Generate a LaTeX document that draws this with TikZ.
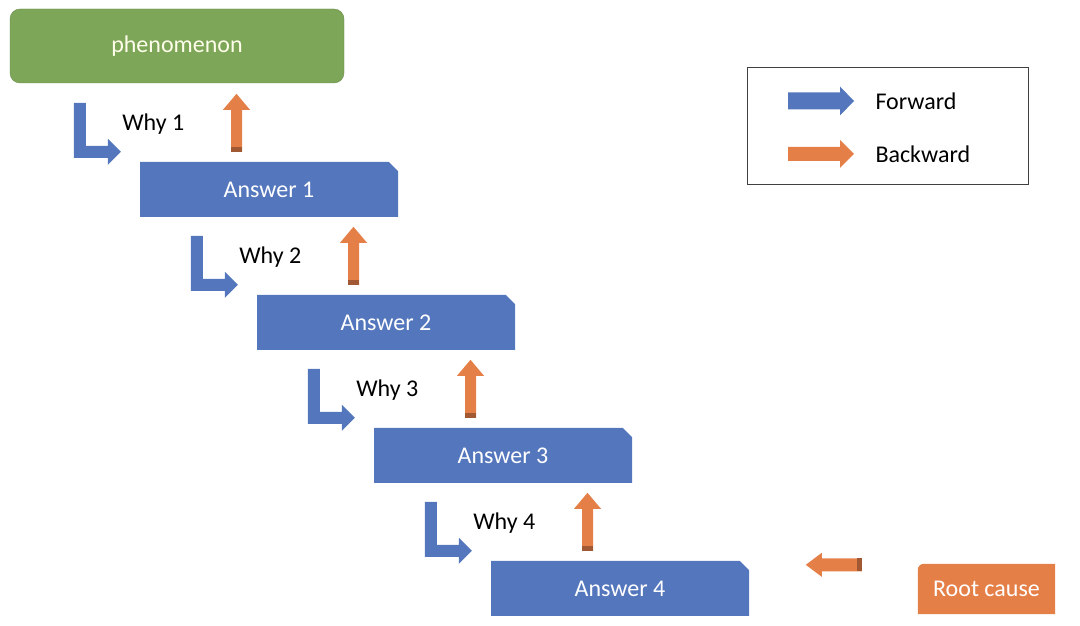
\documentclass[tikz,border=0pt]{standalone}
\usepackage{fontspec}
\setmainfont{Carlito}
\usetikzlibrary{positioning, calc, shapes.misc}

\definecolor{ansblue}{RGB}{84,118,188}
\definecolor{backorange}{RGB}{229,127,72}
\definecolor{phengreen}{RGB}{125,166,88}

\begin{document}
\begin{tikzpicture}[x=1pt, y=1pt,
	every node/.style={font=\fontsize{24}{29}\selectfont},
	answer/.style={chamfered rectangle, chamfered rectangle corners=north east,
		chamfered rectangle xsep=6pt, fill=ansblue, text=white,
		minimum width=258pt, minimum height=55pt, inner sep=0pt},
	fwdarrow/.style={fill=ansblue},
	backarrow/.style={fill=backorange},
	shade/.style={fill=backorange!70!black}]
	\useasboundingbox (0,0) rectangle (1080,626);

	% Boxes
	\node[fill=phengreen, draw=phengreen!85!black, rounded corners=10pt, text=white!92!yellow,
		minimum width=334pt, minimum height=74pt] (phen) at (177,580) {phenomenon};
	\foreach \i in {1,...,4}
		\node[answer] (a\i) at ({269+117*(\i-1)}, {436.5-133*(\i-1)}) {Answer \i};
	\node[minimum width=137pt, minimum height=50pt] (root) at (986.5,37) {};
	\fill[backarrow] (root.south east) -- (root.south west) -- ($(root.north west)+(0,-6)$)
		arc[start angle=180, end angle=90, radius=6] -- (root.north east) -- cycle;
	\node[text=white] (roottext) at (root) {Root cause};

	% Why arrows (forward) and answer arrows (backward)
	\foreach \i in {1,...,4} {
		\fill[fwdarrow] ($(a\i.north west)+(-66,59)$) -- ++(12,0) -- ++(0,-43) -- ++(22,0)
			-- ++(0,7) -- ++(13,-13) -- ++(-13,-13) -- ++(0,7) -- ++(-34,0) -- cycle;
		\node[anchor=west] (why\i) at ($(a\i.north west)+(-21,38)$) {Why \i};
		\fill[backarrow] ($(a\i.north)+(-38,10)$) -- ++(0,42) -- ++(-8,0) -- ++(13.5,16)
			-- ++(13.5,-16) -- ++(-8,0) -- ++(0,-42) -- cycle;
		\fill[shade] ($(a\i.north)+(-38,10)$) rectangle ++(11,5);
	}

	% Root cause arrow
	\fill[backarrow] ($(root.north west)+(-56,5.5)$) -- ++(-40,0) -- ++(0,5.5) -- ++(-16,-12)
		-- ++(16,-12) -- ++(0,5.5) -- ++(40,0) -- cycle;
	\fill[shade] ($(root.north west)+(-56,5.5)$) rectangle ++(-5,-13);

	% Legend
	\node[draw=black!75, line width=1pt, minimum width=281pt, minimum height=117pt] (legend) at (887.5,499.5) {};
	\node[anchor=west] (fwd) at (872,525) {Forward};
	\node[anchor=west] (bwd) at (872,472) {Backward};
	\fill[fwdarrow] ($(fwd.west)+(-84,8.5)$) -- ++(52,0) -- ++(0,6) -- ++(14,-14.5)
		-- ++(-14,-14.5) -- ++(0,6) -- ++(-52,0) -- cycle;
	\fill[backarrow] ($(bwd.west)+(-84,7)$) -- ++(52,0) -- ++(0,7) -- ++(14,-14)
		-- ++(-14,-14) -- ++(0,7) -- ++(-52,0) -- cycle;
\end{tikzpicture}
\end{document}
